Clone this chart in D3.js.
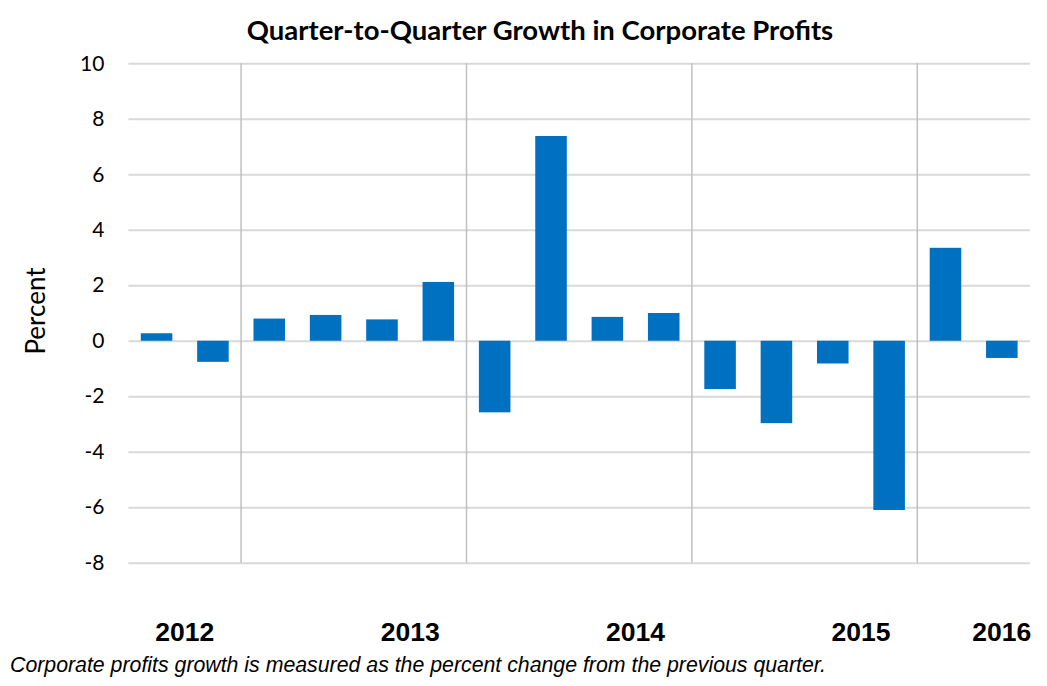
<!DOCTYPE html>
<html>
<head>
<meta charset="utf-8">
<script src="https://cdn.jsdelivr.net/npm/d3@7"></script>
<style>
  html, body { margin: 0; padding: 0; background: #fff; }
  svg { display: block; }
</style>
</head>
<body>
<svg id="chart" width="1047" height="686"></svg>
<script>
// ---- data ----
const quarters = ["2012Q3","2012Q4","2013Q1","2013Q2","2013Q3","2013Q4","2014Q1","2014Q2","2014Q3","2014Q4","2015Q1","2015Q2","2015Q3","2015Q4","2016Q1","2016Q2"];
const growth = [0.27, -0.76, 0.8, 0.93, 0.77, 2.12, -2.58, 7.38, 0.86, 1.0, -1.74, -2.97, -0.82, -6.1, 3.35, -0.62];
const yTicks = [10, 8, 6, 4, 2, 0, -2, -4, -6, -8];
const yearLabels = ["2012", "2013", "2014", "2015", "2016"];
const yearLabelAt = [["2012Q3","2012Q4"], ["2013Q3","2013Q4"], ["2014Q3","2014Q4"], ["2015Q3","2015Q4"], ["2016Q2","2016Q2"]];
const yearStarts = ["2013Q1", "2014Q1", "2015Q1", "2016Q1"];
const titleText = "Quarter-to-Quarter Growth in Corporate Profits";
const yTitle = "Percent";
const footnote = "Corporate profits growth is measured as the percent change from the previous quarter.";

// ---- layout ----
const svg = d3.select("#chart");
const mLeft = 128.4, mRight = 1030, mTop = 63.3, mBottom = 562.7;

const x = d3.scaleBand().domain(quarters).range([mLeft, mRight]).paddingInner(0.44).paddingOuter(0.22);
const y = d3.scaleLinear().domain([-8, 10]).range([mBottom, mTop]);

// gridlines
const yAxis = d3.axisLeft(y).tickValues(yTicks).tickSize(-(mRight - mLeft)).tickPadding(24)
  .tickFormat(d => String(d));
const gy = svg.append("g").attr("transform", `translate(${mLeft},0)`).call(yAxis);
gy.select(".domain").remove();
gy.selectAll(".tick line").attr("stroke", "#d9d9d9").attr("stroke-width", 2);
gy.selectAll(".tick text").attr("fill", "#000").style("font-family", "Lato, 'Open Sans', sans-serif").style("font-size", "21px");

// year separators
const step = x.step();
svg.append("g").selectAll("line").data(yearStarts).join("line")
  .attr("x1", d => x(d) - (step - x.bandwidth()) / 2)
  .attr("x2", d => x(d) - (step - x.bandwidth()) / 2)
  .attr("y1", y(10)).attr("y2", y(-8))
  .attr("stroke", "#c0c0c0").attr("stroke-width", 1.5);

// bars
svg.append("g").selectAll("rect").data(growth).join("rect")
  .attr("x", (d, i) => x(quarters[i]))
  .attr("width", x.bandwidth())
  .attr("y", d => y(Math.max(0, d)))
  .attr("height", d => Math.abs(y(d) - y(0)))
  .attr("fill", "#0070c0");

// year labels
svg.append("g").selectAll("text").data(yearLabels).join("text")
  .attr("x", (d, i) => (x(yearLabelAt[i][0]) + x(yearLabelAt[i][1])) / 2 + x.bandwidth() / 2)
  .attr("y", 641)
  .attr("text-anchor", "middle")
  .style("font-family", "'Liberation Sans', Arial, sans-serif")
  .style("font-weight", "bold")
  .style("font-size", "26.5px")
  .text(d => d);

// title
svg.append("text").attr("x", 540).attr("y", 40).attr("text-anchor", "middle")
  .style("font-family", "Lato, 'Open Sans', sans-serif").style("font-weight", "bold").style("font-size", "27.5px")
  .text(titleText);

// y title
svg.append("text").attr("transform", "translate(45,311) rotate(-90)").attr("text-anchor", "middle")
  .style("font-family", "Lato, 'Open Sans', sans-serif").style("font-size", "26px")
  .text(yTitle);

// footnote
svg.append("text").attr("x", 10).attr("y", 672)
  .style("font-family", "'Liberation Sans', Arial, sans-serif").style("font-style", "italic").style("font-size", "21.3px")
  .text(footnote);
</script>
</body>
</html>
